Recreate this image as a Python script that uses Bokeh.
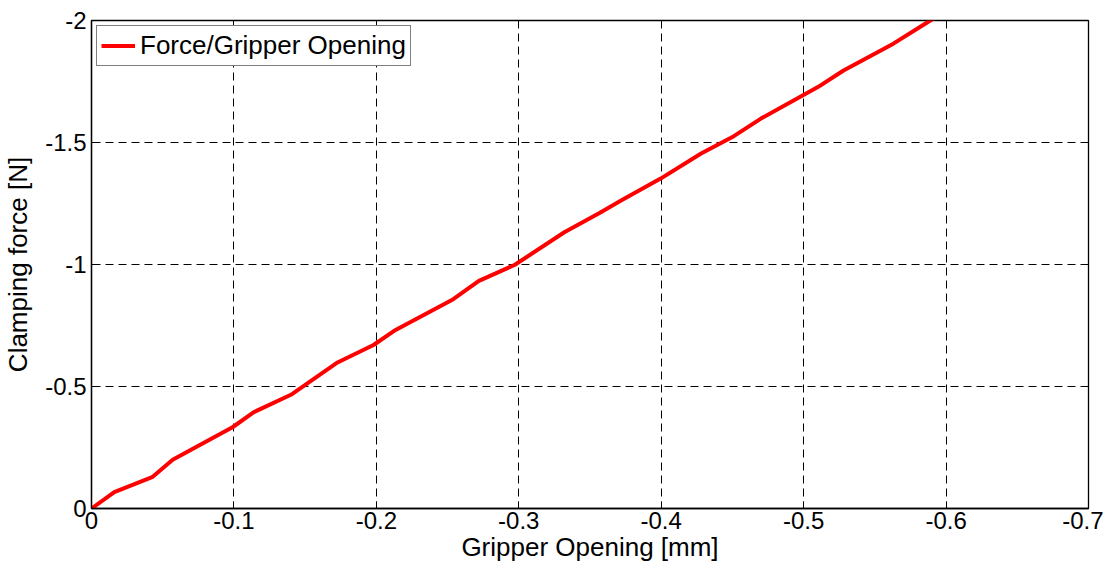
from bokeh.plotting import figure
from bokeh.models import Range1d, FixedTicker, CustomJSTickFormatter, Legend, LegendItem
from bokeh.embed import file_html
from bokeh.resources import INLINE

# Data
opening_mm = [0.0, -0.016, -0.043, -0.057, -0.099, -0.114, -0.140, -0.172, -0.198,
              -0.2135, -0.254, -0.272, -0.297, -0.332, -0.357, -0.3715, -0.3996,
              -0.428, -0.451, -0.470, -0.510, -0.528, -0.563, -0.587, -0.600]
force_n = [0.0, -0.067, -0.130, -0.200, -0.333, -0.395, -0.466, -0.596, -0.670,
           -0.732, -0.858, -0.933, -0.998, -1.132, -1.212, -1.261, -1.352,
           -1.455, -1.526, -1.598, -1.727, -1.795, -1.905, -1.993, -2.04]
x_ticks = [0, -0.1, -0.2, -0.3, -0.4, -0.5, -0.6, -0.7]
y_ticks = [0, -0.5, -1, -1.5, -2]
series_name = "Force/Gripper Opening"

FONT = "Liberation Sans"

p = figure(width=1103, height=564, output_backend="svg", toolbar_location=None,
           x_range=Range1d(0, -0.7), y_range=Range1d(0, -2),
           min_border_left=91, min_border_right=15, min_border_top=20, min_border_bottom=55)
p.background_fill_color = "white"
p.border_fill_color = "white"
p.outline_line_color = "black"
p.outline_line_width = 1.3

fmt = CustomJSTickFormatter(code="return String(Math.round(tick*10)/10);")

for ax, ticks in ((p.xaxis[0], x_ticks), (p.yaxis[0], y_ticks)):
    ax.ticker = FixedTicker(ticks=ticks)
    ax.formatter = fmt
    ax.major_label_text_font = FONT
    ax.major_label_text_font_size = "24px"
    ax.major_label_text_color = "black"
    ax.axis_label_text_font = FONT
    ax.axis_label_text_font_size = "26px"
    ax.axis_label_text_font_style = "normal"
    ax.axis_label_text_color = "black"
    ax.axis_line_color = "black"
    ax.axis_line_width = 1.3
    ax.major_tick_in = 7
    ax.major_tick_out = 0
    ax.minor_tick_line_color = None
    ax.major_tick_line_color = "black"

p.xaxis[0].axis_label = "Gripper Opening [mm]"
p.xaxis[0].major_label_standoff = 3
p.xaxis[0].axis_label_standoff = 0
p.yaxis[0].axis_label = "Clamping force [N]"
p.yaxis[0].major_label_standoff = 5
p.yaxis[0].axis_label_standoff = 9

for g, ticks in ((p.xgrid[0], x_ticks), (p.ygrid[0], y_ticks)):
    g.ticker = FixedTicker(ticks=ticks)
    g.grid_line_color = "black"
    g.grid_line_dash = "8 5"
    g.grid_line_width = 1

r = p.line(opening_mm, force_n, line_color="#ff0000", line_width=4)

legend = Legend(items=[LegendItem(label=series_name, renderers=[r])],
                location="top_left")
legend.label_text_font = FONT
legend.label_text_font_size = "26px"
legend.label_text_color = "black"
legend.border_line_color = "black"
legend.border_line_width = 1.3
legend.background_fill_color = "white"
legend.background_fill_alpha = 1
legend.margin = 5
legend.padding = 4
legend.glyph_width = 34
legend.glyph_height = 27
legend.label_height = 27
legend.label_standoff = 5
legend.spacing = 0
p.add_layout(legend)

open("out.html", "w").write(file_html(p, INLINE))
